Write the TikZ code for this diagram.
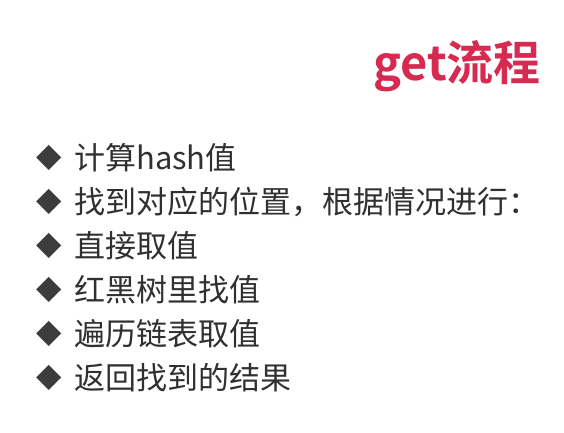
\documentclass[tikz,border=0pt]{standalone}
\usepackage{fontspec}
\newfontfamily\cjk{Noto Sans CJK SC}
\newfontfamily\cjkb{Noto Sans CJK SC Bold}
\newfontfamily\dv{DejaVu Sans}
\definecolor{titlered}{HTML}{D62A50}
\definecolor{bodytext}{HTML}{303030}
\definecolor{bullet}{HTML}{3C3C3C}
\begin{document}
\begin{tikzpicture}[x=1pt,y=-1pt,
  item/.style={anchor=west,inner sep=0pt,text=bodytext,font=\cjk\fontsize{31}{34}\selectfont},
  dot/.style={anchor=center,inner sep=0pt,text=bullet,font=\dv\fontsize{33}{36}\selectfont}]
\useasboundingbox (0,0) rectangle (564,433);
\fill[white] (0,0) rectangle (564,433);
\node[anchor=east,inner sep=0pt,text=titlered,font=\cjkb\fontsize{47}{52}\selectfont] (title) at (541,66) {get流程};
\foreach \i/\y/\t in {1/158/计算hash值,2/202/找到对应的位置，根据情况进行：,3/246/直接取值,4/290/红黑树里找值,5/334/遍历链表取值,6/378/返回找到的结果}{
  \node[dot] (b\i) at (49,\y) {◆};
  \node[item] (t\i) at (74,\y) {\t};
}
\end{tikzpicture}
\end{document}
